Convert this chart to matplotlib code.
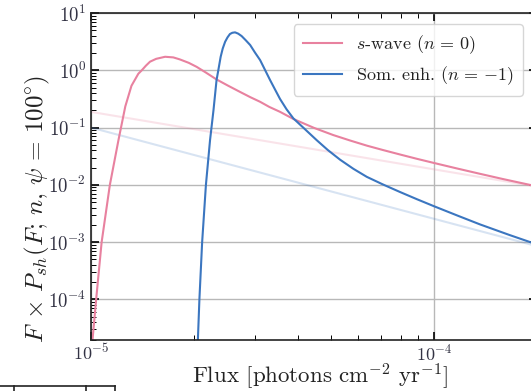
import numpy as np
import matplotlib
matplotlib.use("Agg")
import matplotlib.pyplot as plt
from matplotlib.lines import Line2D

plt.rcParams['font.family'] = 'serif'
plt.rcParams['font.serif'] = ['cmr10']
plt.rcParams['mathtext.fontset'] = 'cm'
plt.rcParams['axes.formatter.use_mathtext'] = True
plt.rcParams['axes.unicode_minus'] = True

# values, as log10(flux), log10(F x P)
swave_logF = [-4.997, -4.985, -4.969, -4.945, -4.920, -4.900, -4.882, -4.862,
              -4.852, -4.840, -4.828, -4.810, -4.784, -4.760, -4.741, -4.715,
              -4.692, -4.665, -4.634, -4.600, -4.566, -4.536, -4.507, -4.480,
              -4.449, -4.410, -4.350, -4.294, -4.245, -4.196, -4.150, -4.099,
              -4.050, -4.000, -3.930, -3.866, -3.800, -3.700]
swave_logP = [-4.80, -4.00, -3.00, -2.00, -1.22, -0.63, -0.27, -0.06,
              0.00, 0.08, 0.15, 0.20, 0.236, 0.225, 0.19, 0.13,
              0.06, -0.04, -0.16, -0.27, -0.376, -0.468, -0.55, -0.64,
              -0.725, -0.85, -1.005, -1.13, -1.225, -1.315, -1.39, -1.47,
              -1.545, -1.618, -1.718, -1.807, -1.897, -2.027]

somm_logF = [-4.689, -4.684, -4.676, -4.665, -4.653, -4.643, -4.634, -4.628,
             -4.622, -4.616, -4.609, -4.602, -4.595, -4.588, -4.580, -4.571,
             -4.561, -4.549, -4.536, -4.522, -4.507, -4.493, -4.478, -4.464,
             -4.449, -4.430, -4.410, -4.376, -4.342, -4.310, -4.274, -4.235,
             -4.196, -4.150, -4.099, -4.050, -4.000, -3.930, -3.866, -3.780,
             -3.700]
somm_logP = [-4.80, -4.00, -3.00, -2.00, -1.22, -0.70, -0.17, 0.03,
             0.236, 0.38, 0.498, 0.575, 0.633, 0.655, 0.662, 0.64,
             0.598, 0.525, 0.441, 0.31, 0.178, 0.01, -0.17, -0.33,
             -0.50, -0.68, -0.84, -1.03, -1.22, -1.39, -1.56, -1.72,
             -1.86, -1.99, -2.125, -2.25, -2.373, -2.54, -2.69, -2.875,
             -3.04]

# faint power-law guides
swave_guide_logF = [-5.0, -3.70]
swave_guide_logP = [-0.726, -2.03]
somm_guide_logF = [-5.0, -3.70]
somm_guide_logP = [-1.0, -3.07]

pink = '#e8819f'
blue = '#3b76c0'

fig = plt.figure(figsize=(5.31, 3.91), dpi=100)
W, H = 531, 391
ax = fig.add_axes([91 / W, (H - 339.5) / H, (537.3 - 91) / W, (339.5 - 13) / H])

def pw(a):
    return 10 ** np.array(a)

ax.plot(pw(swave_guide_logF), pw(swave_guide_logP), color=pink, alpha=0.22, lw=1.5)
ax.plot(pw(somm_guide_logF), pw(somm_guide_logP), color=blue, alpha=0.2, lw=1.5)
ax.plot(pw(swave_logF), pw(swave_logP), color=pink, lw=1.5,
        label=r'$s$-wave $(n\,=\,0)$')
ax.plot(pw(somm_logF), pw(somm_logP), color=blue, lw=1.5,
        label=r'Som. enh. $(n\,=\,{-1})$')

ax.set_xscale('log')
ax.set_yscale('log')
ax.set_xlim(1e-5, 2e-4)
ax.set_ylim(2e-5, 10)
ax.grid(True, which='major', color='#b8b8b8', lw=1)
ax.set_axisbelow(True)

ax.tick_params(which='both', direction='in', top=True, right=True,
               labelsize=13.5, labelcolor='#333344')
ax.tick_params(axis='x', labelsize=13)
ax.tick_params(which='major', length=6, width=1.2)
ax.tick_params(which='minor', length=3.5, width=0.7)
ax.tick_params(axis='x', pad=2)
ax.set_yticks([1e-4, 1e-3, 1e-2, 1e-1, 1, 10])
for s in ax.spines.values():
    s.set_linewidth(1.2)
    s.set_color('#222222')

ax.set_xlabel(r'Flux [photons cm$^{-2}$ yr$^{-1}$]', fontsize=16.5, color='#222222')
ax.set_ylabel(r'$F \,\times\, P_{sh}(F;\, n,\, \psi \,=\, 100^{\circ})$', fontsize=18,
              color='#222222')
ax.xaxis.set_label_coords(0.513, -0.068)
ax.yaxis.set_label_coords(-0.088, 0.40)

leg = ax.legend(loc='upper right', fontsize=13, bbox_to_anchor=(0.968, 0.966),
                borderaxespad=0, framealpha=0.8, edgecolor='#cccccc',
                handlelength=2.2, handletextpad=0.75,
                labelspacing=0.45, borderpad=0.5)
for t in leg.get_texts():
    t.set_color('#222222')

# bits of the neighbouring panel at the bottom left
for seg in [([0, 115], [386, 386]), ([14, 14], [386, 391]), ([86, 86], [386, 391]), ([115, 115], [386, 391])]:
    fig.add_artist(Line2D([x / W for x in seg[0]], [(H - y) / H for y in seg[1]],
                          color='#222222', lw=1.2))

fig.savefig('out.png', dpi=100)
